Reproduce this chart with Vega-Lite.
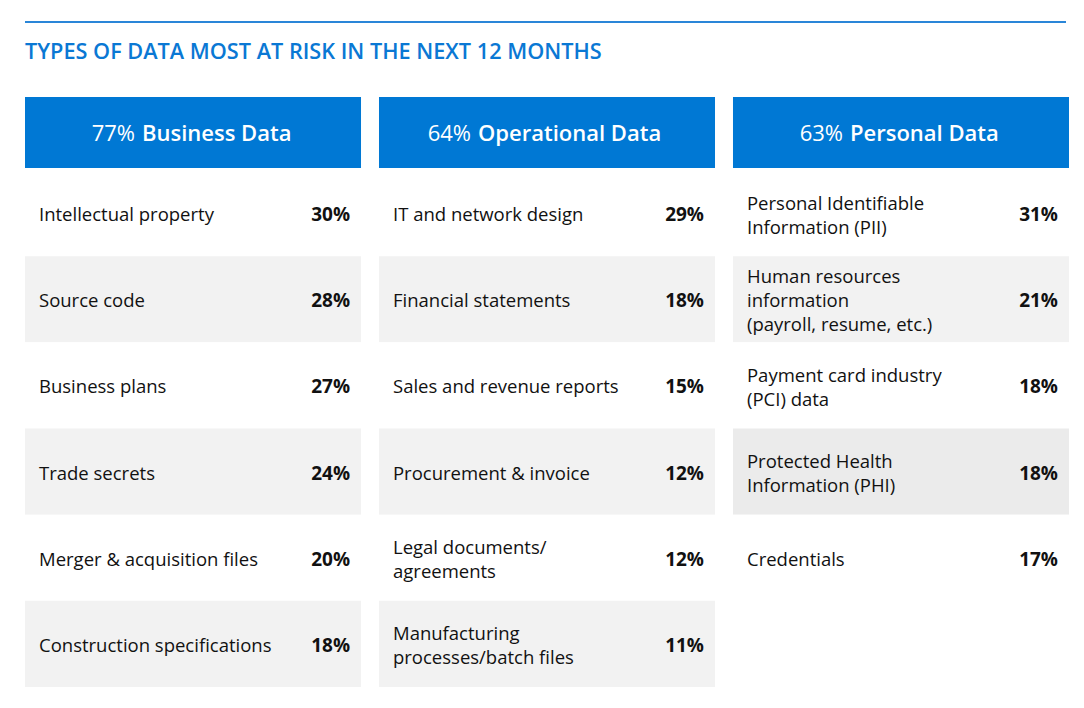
{
  "$schema": "https://vega.github.io/schema/vega-lite/v6.json",
  "background": "#ffffff",
  "padding": {"left": 25, "top": 21, "right": 0, "bottom": 0},
  "config": {
    "view": {"stroke": null},
    "font": "Open Sans",
    "title": {"font": "Open Sans", "fontSize": 21.7, "fontWeight": 600, "color": "#0a78d4", "anchor": "start"}
  },
  "datasets": {
    "groups": [
      {"group": "Business Data", "pct": "77%"},
      {"group": "Operational Data", "pct": "64%"},
      {"group": "Personal Data", "pct": "63%"}
    ],
    "items": [
      {"group": "Business Data", "rank": 1, "item": "Intellectual property", "pct": "30%"},
      {"group": "Business Data", "rank": 2, "item": "Source code", "pct": "28%"},
      {"group": "Business Data", "rank": 3, "item": "Business plans", "pct": "27%"},
      {"group": "Business Data", "rank": 4, "item": "Trade secrets", "pct": "24%"},
      {"group": "Business Data", "rank": 5, "item": "Merger & acquisition files", "pct": "20%"},
      {"group": "Business Data", "rank": 6, "item": "Construction specifications", "pct": "18%"},
      {"group": "Operational Data", "rank": 1, "item": "IT and network design", "pct": "29%"},
      {"group": "Operational Data", "rank": 2, "item": "Financial statements", "pct": "18%"},
      {"group": "Operational Data", "rank": 3, "item": "Sales and revenue reports", "pct": "15%"},
      {"group": "Operational Data", "rank": 4, "item": "Procurement & invoice", "pct": "12%"},
      {"group": "Operational Data", "rank": 5, "item": "Legal documents/\nagreements", "pct": "12%"},
      {"group": "Operational Data", "rank": 6, "item": "Manufacturing\nprocesses/batch files", "pct": "11%"},
      {"group": "Personal Data", "rank": 1, "item": "Personal Identifiable\nInformation (PII)", "pct": "31%"},
      {"group": "Personal Data", "rank": 2, "item": "Human resources\ninformation\n(payroll, resume, etc.)", "pct": "21%"},
      {"group": "Personal Data", "rank": 3, "item": "Payment card industry\n(PCI) data", "pct": "18%"},
      {"group": "Personal Data", "rank": 4, "item": "Protected Health\nInformation (PHI)", "pct": "18%"},
      {"group": "Personal Data", "rank": 5, "item": "Credentials", "pct": "17%"}
    ]
  },
  "spacing": 33,
  "vconcat": [
    {
      "width": 1041,
      "height": 2,
      "title": {"text": "TYPES OF DATA MOST AT RISK IN THE NEXT 12 MONTHS", "orient": "bottom", "anchor": "start", "baseline": "top", "offset": 19},
      "data": {"values": [{"line": "top rule"}]},
      "mark": {"type": "rect", "color": "#2a86d8"},
      "encoding": {}
    },
    {
      "spacing": 2,
      "vconcat": [
        {
          "width": 1044,
          "height": 71,
          "data": {"name": "groups"},
          "encoding": {
            "x": {"field": "group", "type": "nominal", "axis": null,
                  "scale": {"domain": ["Business Data", "Operational Data", "Personal Data"], "paddingInner": 0.0508, "paddingOuter": 0}}
          },
          "layer": [
            {"mark": {"type": "rect", "color": "#0078d4"}},
            {"transform": [{"filter": "length(datum.group) <= 14"}],
             "layer": [
               {"mark": {"type": "text", "align": "right", "baseline": "middle", "dy": 1.5, "dx": -58, "fontSize": 22, "color": "#ffffff", "fontWeight": "normal"},
                "encoding": {"text": {"field": "pct"}}},
               {"mark": {"type": "text", "align": "left", "baseline": "middle", "dy": 1.5, "dx": -51, "fontSize": 22, "color": "#ffffff", "fontWeight": 600},
                "encoding": {"text": {"field": "group"}}}
             ]},
            {"transform": [{"filter": "length(datum.group) > 14"}],
             "layer": [
               {"mark": {"type": "text", "align": "right", "baseline": "middle", "dy": 1.5, "dx": -76, "fontSize": 22, "color": "#ffffff", "fontWeight": "normal"},
                "encoding": {"text": {"field": "pct"}}},
               {"mark": {"type": "text", "align": "left", "baseline": "middle", "dy": 1.5, "dx": -69, "fontSize": 22, "color": "#ffffff", "fontWeight": 600},
                "encoding": {"text": {"field": "group"}}}
             ]}
          ]
        },
        {
          "width": 1044,
          "height": 517,
          "data": {"name": "items"},
          "encoding": {
            "x": {"field": "group", "type": "nominal", "axis": null,
                  "scale": {"domain": ["Business Data", "Operational Data", "Personal Data"], "paddingInner": 0.0508, "paddingOuter": 0}},
            "y": {"field": "rank", "type": "ordinal", "axis": null,
                  "scale": {"domain": [1, 2, 3, 4, 5, 6], "paddingInner": 0, "paddingOuter": 0}}
          },
          "layer": [
            {"mark": {"type": "rect"},
             "encoding": {
               "fill": {
                 "condition": [
                   {"test": "indexof(datum.item, 'PHI') >= 0", "value": "#ebebeb"},
                   {"test": "datum.rank % 2 === 0", "value": "#f2f2f2"}
                 ],
                 "value": "#ffffff"
               }
             }},
            {"transform": [{"filter": "length(split(datum.item, '\\n')) === 1"}],
             "mark": {"type": "text", "align": "left", "baseline": "middle", "dx": 14, "dy": 2, "fontSize": 18.5, "lineHeight": 24, "lineBreak": "\n", "color": "#111111"},
             "encoding": {
               "x": {"field": "group", "type": "nominal", "bandPosition": 0},
               "text": {"field": "item"}
             }},
            {"transform": [{"filter": "length(split(datum.item, '\\n')) === 2"}],
             "mark": {"type": "text", "align": "left", "baseline": "middle", "dx": 14, "dy": -9.5, "fontSize": 18.5, "lineHeight": 24, "lineBreak": "\n", "color": "#111111"},
             "encoding": {
               "x": {"field": "group", "type": "nominal", "bandPosition": 0},
               "text": {"field": "item"}
             }},
            {"transform": [{"filter": "length(split(datum.item, '\\n')) === 3"}],
             "mark": {"type": "text", "align": "left", "baseline": "middle", "dx": 14, "dy": -22, "fontSize": 18.5, "lineHeight": 24, "lineBreak": "\n", "color": "#111111"},
             "encoding": {
               "x": {"field": "group", "type": "nominal", "bandPosition": 0},
               "text": {"field": "item"}
             }},
            {"mark": {"type": "text", "align": "right", "baseline": "middle", "dx": -11, "dy": 2, "fontSize": 19, "fontWeight": "bold", "color": "#111111"},
             "encoding": {
               "x": {"field": "group", "type": "nominal", "bandPosition": 1},
               "text": {"field": "pct"}
             }}
          ]
        }
      ]
    }
  ]
}
